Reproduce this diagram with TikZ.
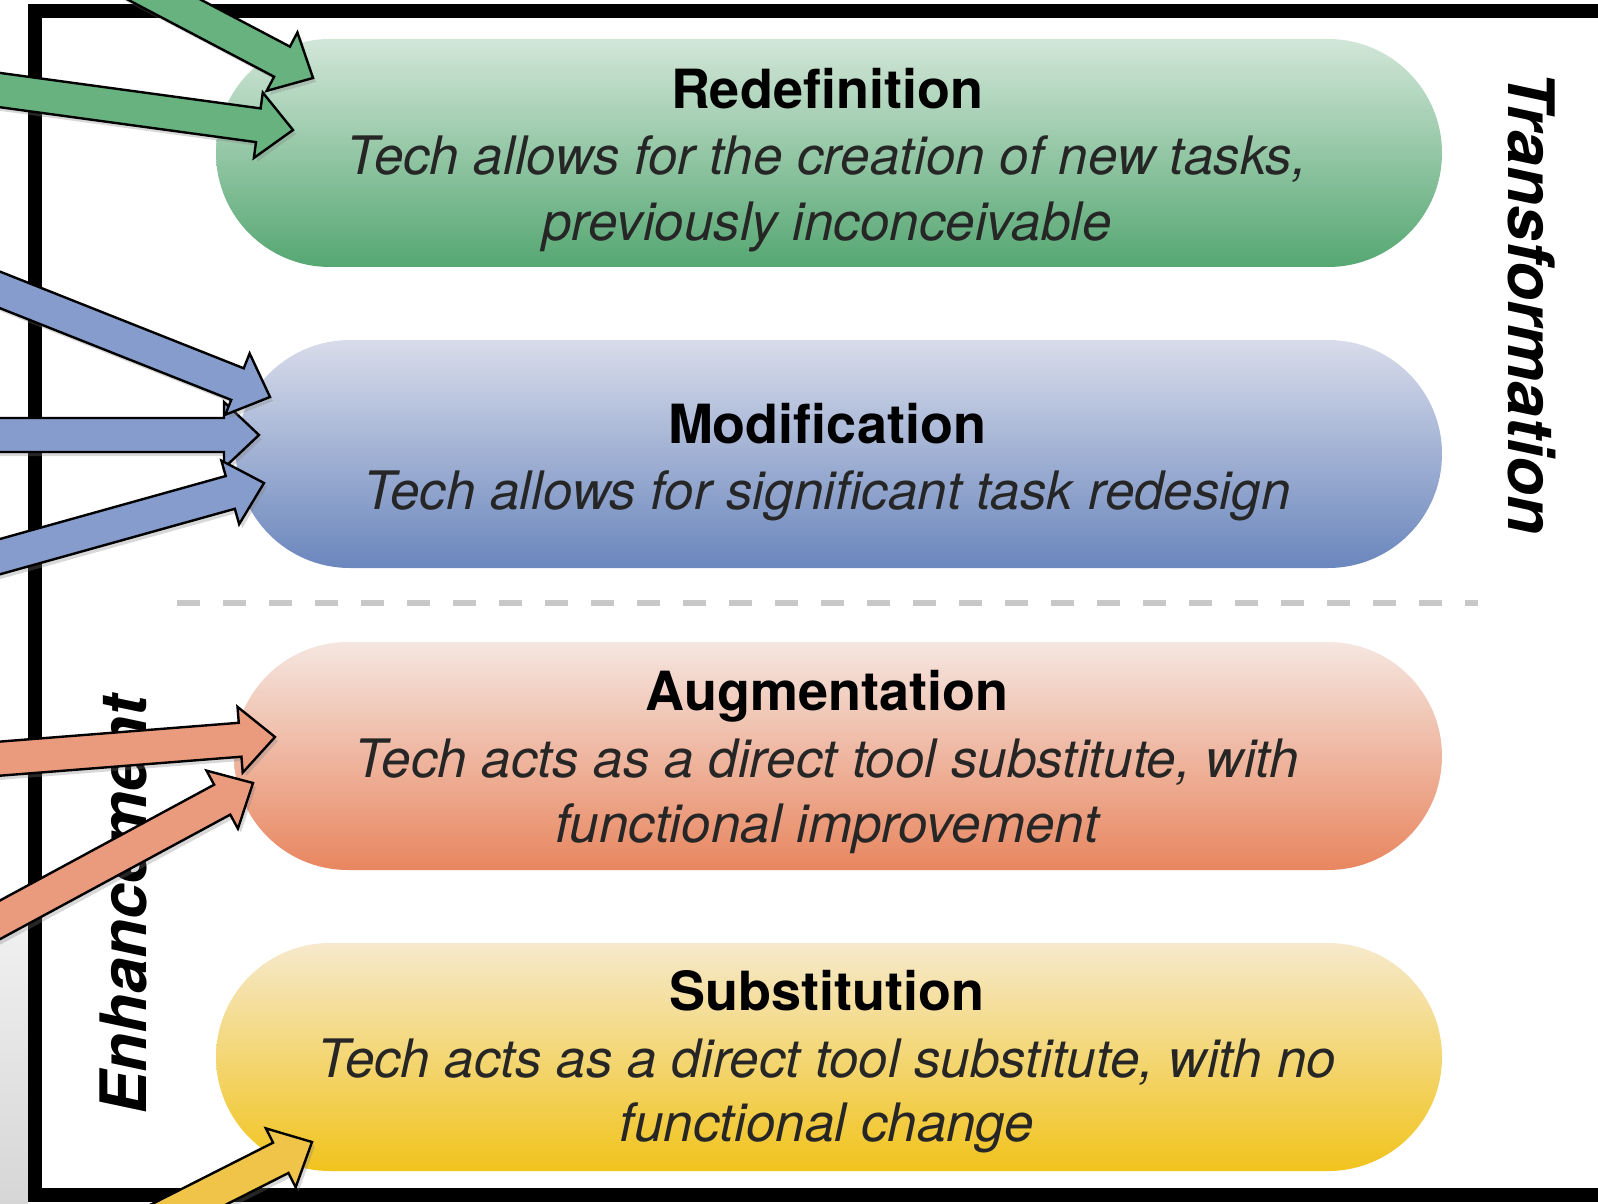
\documentclass[tikz,border=0pt]{standalone}
\usepackage{fontspec}
\setmainfont{TeX Gyre Heros}
\usetikzlibrary{calc,shapes.misc,shadows}

% level colours: pill shading (light top, strong bottom) and arrow fills
\definecolor{redefTop}{HTML}{D2E6D8}
\definecolor{redefBot}{HTML}{55A772}
\definecolor{redefArr}{HTML}{68B280}
\definecolor{modTop}{HTML}{D8DCEA}
\definecolor{modBot}{HTML}{6A86BD}
\definecolor{modArr}{HTML}{869CCC}
\definecolor{augTop}{HTML}{F5E6E0}
\definecolor{augBot}{HTML}{E8865F}
\definecolor{augArr}{HTML}{EB9B7D}
\definecolor{subTop}{HTML}{F6E9CC}
\definecolor{subBot}{HTML}{F1C31C}
\definecolor{subArr}{HTML}{F0C448}
\definecolor{bodytext}{HTML}{262626}
\definecolor{sepgray}{HTML}{C8C8C8}

\tikzset{
  pill/.style={rounded rectangle, minimum height=114pt, inner sep=0pt, draw=none},
  ttl/.style={anchor=base, inner sep=0pt, text=black,
    font=\bfseries\fontsize{27}{33}\selectfont},
  desc/.style={anchor=base, inner sep=0pt, text=bodytext,
    font=\itshape\fontsize{26.5}{33}\selectfont},
  side/.style={anchor=base, inner sep=0pt, text=black,
    font=\bfseries\itshape\fontsize{32}{38}\selectfont},
  frameline/.style={line width=7pt, line join=miter},
  levelsep/.style={line width=3pt, draw=sepgray, dash pattern=on 11.5pt off 11.5pt},
  blk/.style={draw=black, line width=1.2pt, line join=miter,
    drop shadow={shadow xshift=1.5pt, shadow yshift=-2pt, opacity=0.3}},
}

% block arrow from a tail coordinate to a tip coordinate
\newcommand\blockarrow[3]{%
  \coordinate (hb) at ($(#3)!17.5pt!(#2)$);
  \filldraw[blk, fill=#1]
    ($(#2)!8.5pt!90:(#3)$) -- ($(hb)!8.5pt!90:(#3)$) -- ($(hb)!16.5pt!90:(#3)$)
    -- (#3)
    -- ($(hb)!16.5pt!-90:(#3)$) -- ($(hb)!8.5pt!-90:(#3)$) -- ($(#2)!8.5pt!-90:(#3)$)
    -- cycle;
}

\begin{document}
\begin{tikzpicture}[x=0.5pt, y=-0.5pt]
  \useasboundingbox (0,0) rectangle (1598,1203);
  \clip (0,0) rectangle (1598,1203);
  \fill[white] (0,0) rectangle (1598,1203);

  % grey strip outside the frame
  \shade[top color=gray!12, bottom color=gray!32] (0,930) rectangle (28,1203);

  % frame
  \draw[frameline] (1610,11) -- (35,11) -- (35,1195) -- (1610,1195);

  % level pills
  \node[pill, minimum width=613pt, top color=redefTop, bottom color=redefBot] (redef) at (829,153) {};
  \node[pill, minimum width=603pt, top color=modTop, bottom color=modBot] (modif) at (839,454) {};
  \node[pill, minimum width=604pt, top color=augTop, bottom color=augBot] (augm) at (838,756) {};
  \node[pill, minimum width=613pt, top color=subTop, bottom color=subBot] (subst) at (829,1057) {};

  % boundary between transformation and enhancement
  \coordinate (sepL) at (177,603);
  \coordinate (sepR) at (1478,603);
  \draw[levelsep] (sepL) -- (sepR);

  % level texts
  \node[ttl]  (redefT)  at (827,109)  {Redefinition};
  \node[desc] (redefD1) at (827,175)  {Tech allows for the creation of new tasks,};
  \node[desc] (redefD2) at (827,241)  {previously inconceivable};

  \node[ttl]  (modifT)  at (827,443)  {Modification};
  \node[desc] (modifD1) at (827,509)  {Tech allows for significant task redesign};

  \node[ttl]  (augmT)   at (827,710)  {Augmentation};
  \node[desc] (augmD1)  at (827,777)  {Tech acts as a direct tool substitute, with};
  \node[desc] (augmD2)  at (827,842)  {functional improvement};

  \node[ttl]  (substT)  at (827,1010) {Substitution};
  \node[desc] (substD1) at (827,1077) {Tech acts as a direct tool substitute, with no};
  \node[desc] (substD2) at (827,1141) {functional change};

  % side labels
  \node[side, rotate=-90] (transf) at (1508,303) {Transformation};
  \node[side, rotate=90]  (enhan)  at (146,905)  {Enhancement};

  % arrow ends
  \coordinate (g1tail) at (108,-30);  \coordinate (g1tip) at (313,78);
  \coordinate (g2tail) at (-30,86);   \coordinate (g2tip) at (293,130);
  \coordinate (b1tail) at (-30,278);  \coordinate (b1tip) at (270,397);
  \coordinate (b2tail) at (-30,435);  \coordinate (b2tip) at (259,435);
  \coordinate (b3tail) at (-30,565);  \coordinate (b3tip) at (264,483);
  \coordinate (o1tail) at (-30,761);  \coordinate (o1tip) at (275,737);
  \coordinate (o2tail) at (-30,936);  \coordinate (o2tip) at (253,783);
  \coordinate (y1tail) at (150,1224); \coordinate (y1tip) at (312,1142);

  % arrows into the levels
  \blockarrow{redefArr}{g2tail}{g2tip}
  \blockarrow{redefArr}{g1tail}{g1tip}
  \blockarrow{modArr}{b2tail}{b2tip}
  \blockarrow{modArr}{b1tail}{b1tip}
  \blockarrow{modArr}{b3tail}{b3tip}
  \blockarrow{augArr}{o2tail}{o2tip}
  \blockarrow{augArr}{o1tail}{o1tip}
  \blockarrow{subArr}{y1tail}{y1tip}
\end{tikzpicture}
\end{document}
